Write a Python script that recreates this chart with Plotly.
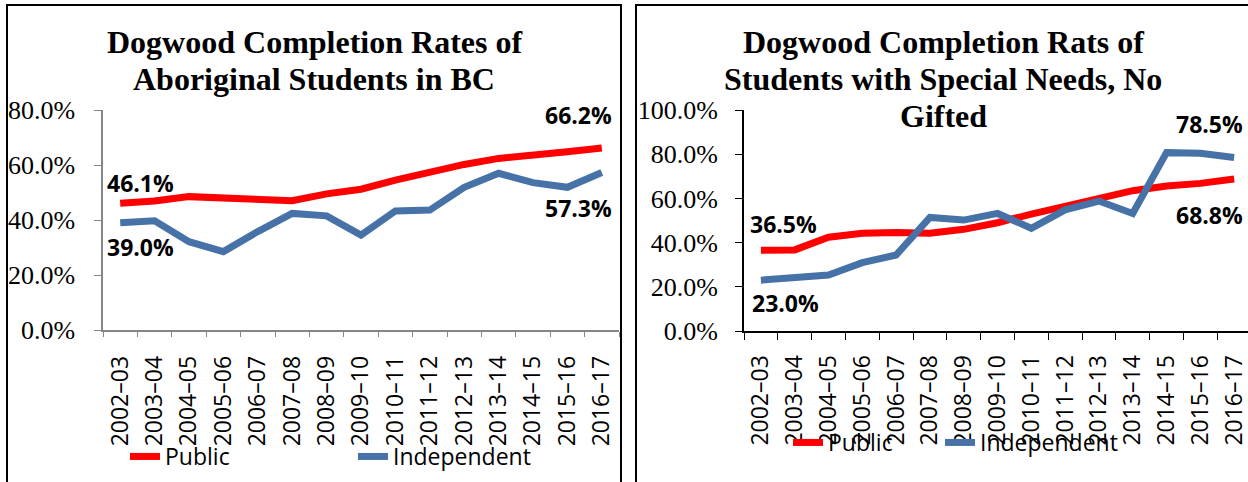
import plotly.graph_objects as go

years = ["2002–03", "2003–04", "2004–05", "2005–06", "2006–07", "2007–08", "2008–09",
         "2009–10", "2010–11", "2011–12", "2012–13", "2013–14", "2014–15", "2015–16", "2016–17"]

# Left chart: Aboriginal students
abor_public = [46.1, 46.9, 48.5, 48.2, 47.6, 47.0, 49.5, 51.2, 54.5, 57.6, 60.2, 62.4, 63.9, 64.8, 66.2]
abor_indep = [39.0, 39.7, 32.1, 28.5, 35.8, 42.4, 41.5, 34.5, 43.3, 43.6, 51.9, 57.0, 53.6, 51.9, 57.3]

# Right chart: Special needs, no gifted
sn_public = [36.5, 36.7, 42.4, 44.2, 44.6, 44.2, 46.0, 49.0, 52.9, 56.2, 59.7, 63.5, 65.6, 66.8, 68.8]
sn_indep = [23.0, 23.8, 25.3, 30.9, 34.4, 51.4, 50.2, 53.2, 46.5, 54.8, 58.8, 53.2, 80.7, 80.4, 78.5]

left_ticks = [0, 20, 40, 60, 80]
right_ticks = [0, 20, 40, 60, 80, 100]

left_title = ["Dogwood Completion Rates of", "Aboriginal Students in BC"]
right_title = ["Dogwood Completion Rats of", "Students with Special Needs, No", "Gifted"]

RED = "#FF0000"
BLUE = "#4672A8"
W, H = 1248, 482

def px(x):
    return x / W

def py(y):
    return 1 - y / H

fig = go.Figure()

fig.add_trace(go.Scatter(x=years, y=abor_public, mode="lines", name="Public",
                         line=dict(color=RED, width=7), xaxis="x", yaxis="y", legend="legend"))
fig.add_trace(go.Scatter(x=years, y=abor_indep, mode="lines", name="Independent",
                         line=dict(color=BLUE, width=7), xaxis="x", yaxis="y", legend="legend"))
fig.add_trace(go.Scatter(x=years, y=sn_public, mode="lines", name="Public",
                         line=dict(color=RED, width=7), xaxis="x2", yaxis="y2", legend="legend2"))
fig.add_trace(go.Scatter(x=years, y=sn_indep, mode="lines", name="Independent",
                         line=dict(color=BLUE, width=7), xaxis="x2", yaxis="y2", legend="legend3"))

tickfont_x = dict(family="Open Sans", size=23, color="black")
tickfont_y = dict(family="Liberation Serif", size=26, color="black")
legend_font = dict(family="Open Sans", size=23, color="black")

fig.update_layout(
    width=W, height=H, autosize=False,
    margin=dict(l=0, r=0, t=0, b=0, autoexpand=False),
    paper_bgcolor="white", plot_bgcolor="white",
    hovermode=False,
    xaxis=dict(domain=[px(103), px(619)], type="category", range=[-0.5, 14.5],
               tickson="boundaries", ticks="outside", ticklen=5, tickcolor="#868686",
               showline=True, linecolor="#868686", linewidth=1.5, tickangle=-90,
               tickfont=tickfont_x, showgrid=False, zeroline=False, anchor="y",
               ticklabelstandoff=15),
    yaxis=dict(domain=[py(330), py(110)], range=[0, 80], tickvals=left_ticks,
               ticktext=[f"{v:.1f}%" for v in left_ticks], ticks="outside", ticklen=7,
               tickcolor="#868686", showline=True, linecolor="#868686", linewidth=1.5,
               tickfont=tickfont_y, showgrid=False, zeroline=False, anchor="x",
               ticklabelstandoff=14),
    xaxis2=dict(domain=[px(744), 1.0], type="category", range=[-0.5, 14.41],
                tickson="boundaries", ticks="outside", ticklen=7, tickcolor="black",
                showline=True, linecolor="black", linewidth=2, tickangle=-90,
                tickfont=tickfont_x, showgrid=False, zeroline=False, anchor="y2",
                ticklabelstandoff=13),
    yaxis2=dict(domain=[py(331), py(110)], range=[0, 100], tickvals=right_ticks,
                ticktext=[f"{v:.1f}%" for v in right_ticks], ticks="outside", ticklen=7,
                tickcolor="black", showline=True, linecolor="black", linewidth=2,
                tickfont=tickfont_y, showgrid=False, zeroline=False, anchor="x2",
                ticklabelstandoff=12),
    legend=dict(orientation="h", x=px(125), xanchor="left", y=py(435), yanchor="top",
                font=legend_font, entrywidth=183, entrywidthmode="pixels",
                bgcolor="rgba(0,0,0,0)"),
    legend2=dict(orientation="h", x=px(788), xanchor="left", y=py(421), yanchor="top",
                 font=legend_font, bgcolor="rgba(0,0,0,0)"),
    legend3=dict(orientation="h", x=px(940), xanchor="left", y=py(421), yanchor="top",
                 font=legend_font, bgcolor="rgba(0,0,0,0)"),
    showlegend=True,
)

# Panel frames
fig.add_shape(type="rect", xref="paper", yref="paper", x0=px(7), x1=px(621), y0=-0.2, y1=py(5),
              line=dict(color="black", width=2), fillcolor="rgba(0,0,0,0)", layer="below")
fig.add_shape(type="rect", xref="paper", yref="paper", x0=px(636), x1=1.2, y0=-0.2, y1=py(5),
              line=dict(color="black", width=2), fillcolor="rgba(0,0,0,0)", layer="below")

# Titles
title_font = dict(family="Liberation Serif", size=32, color="black")
for i, line in enumerate(left_title):
    fig.add_annotation(text=f"<b>{line}</b>", xref="paper", yref="paper", x=px(314),
                       y=py(42 + 37 * i), xanchor="center", yanchor="middle",
                       showarrow=False, font=title_font)
for i, line in enumerate(right_title):
    fig.add_annotation(text=f"<b>{line}</b>", xref="paper", yref="paper", x=px(943),
                       y=py(42 + 37 * i), xanchor="center", yanchor="middle",
                       showarrow=False, font=title_font)

# Data labels for first and last points
label_font = dict(family="Open Sans", size=23, color="black")
def label(xref, yref, cat, val, dx, dy):
    fig.add_annotation(text=f"<b>{val:.1f}%</b>", xref=xref, yref=yref, x=cat, y=val,
                       xshift=dx, yshift=dy, showarrow=False, font=label_font,
                       xanchor="center", yanchor="middle")

label("x", "y", years[0], abor_public[0], 20, 20)
label("x", "y", years[0], abor_indep[0], 20, -24)
label("x", "y", years[-1], abor_public[-1], -23, 33)
label("x", "y", years[-1], abor_indep[-1], -23, -36)
label("x2", "y2", years[0], sn_public[0], 23, 26)
label("x2", "y2", years[0], sn_indep[0], 25, -23)
label("x2", "y2", years[-1], sn_indep[-1], -25, 34)
label("x2", "y2", years[-1], sn_public[-1], -25, -36)

fig.write_html("out.html", config={"displayModeBar": False},
               post_script="document.body.style.margin='0px';document.body.style.overflow='hidden';")
